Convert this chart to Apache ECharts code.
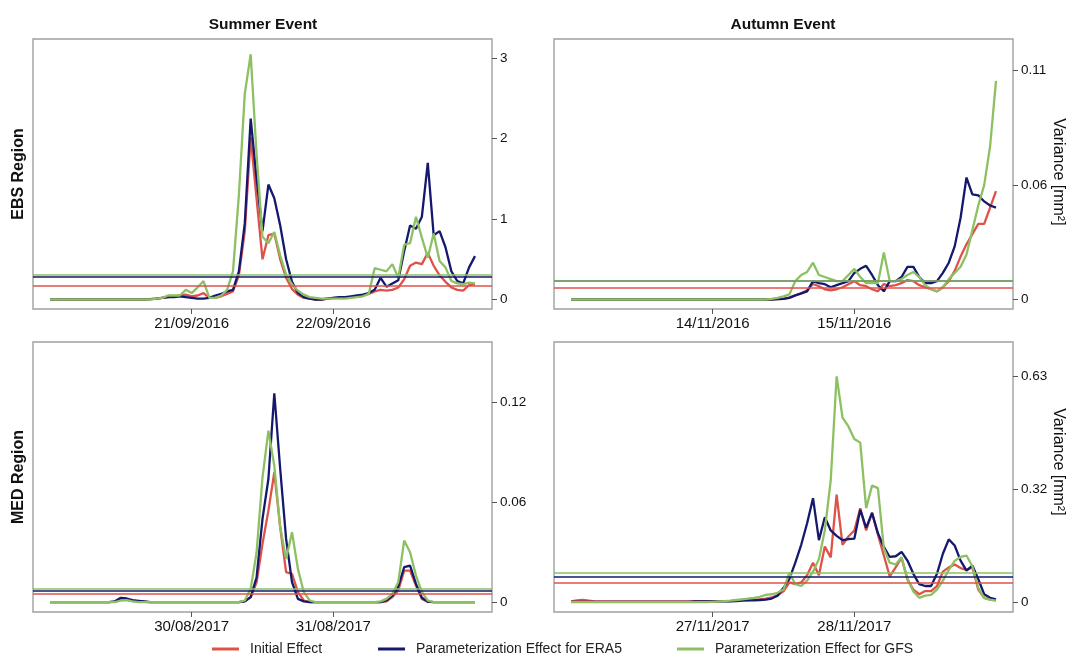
<!DOCTYPE html>
<html><head><meta charset="utf-8">
<script src="https://cdn.jsdelivr.net/npm/echarts@6/dist/echarts.min.js"></script>
<style>html,body{margin:0;padding:0;background:#fff}#c{width:1082px;height:657px}</style>
</head><body><div id="c"></div>
<script>
// hourly time index over 3 days (0 = first day 00:00)
const hours = Array.from({length: 73}, (_, i) => i);
const seriesNames = ['Initial Effect', 'Parameterization Effect for ERA5', 'Parameterization Effect for GFS'];

// ---- Summer event, EBS region ----
const summerEbsInitial = [
0,0,0,0,0,0,0,0,0,0,
0,0,0,0,0,0,0,0.005,0.01,0.02,
0.03,0.04,0.05,0.06,0.04,0.05,0.08,0.02,0.02,0.04,
0.07,0.1,0.3,0.85,2.02,1.25,0.5,0.8,0.82,0.5,
0.27,0.13,0.06,0.02,0.01,0,0,0.01,0.02,0.02,
0.03,0.03,0.04,0.05,0.07,0.1,0.12,0.11,0.12,0.15,
0.25,0.42,0.46,0.44,0.58,0.42,0.3,0.22,0.15,0.12,
0.11,0.18,0.19];
const summerEbsEra5 = [
0,0,0,0,0,0,0,0,0,0,
0,0,0,0,0,0,0,0.005,0.01,0.02,
0.03,0.03,0.04,0.03,0.02,0.01,0.01,0.02,0.05,0.07,
0.1,0.12,0.35,0.95,2.25,1.5,0.85,1.43,1.26,0.92,
0.5,0.22,0.08,0.03,0.01,0,0,0.01,0.02,0.03,
0.03,0.04,0.05,0.06,0.08,0.12,0.27,0.16,0.2,0.24,
0.6,0.92,0.88,1.03,1.7,0.8,0.85,0.65,0.35,0.23,
0.2,0.4,0.54];
const summerEbsGfs = [
0,0,0,0,0,0,0,0,0,0,
0,0,0,0,0,0,0,0,0.01,0.02,
0.05,0.05,0.05,0.12,0.08,0.15,0.23,0.02,0.02,0.05,
0.12,0.35,1.3,2.56,3.05,1.8,0.78,0.7,0.84,0.55,
0.31,0.19,0.11,0.06,0.03,0.02,0.01,0.01,0.01,0.01,
0.01,0.02,0.03,0.04,0.07,0.39,0.37,0.35,0.44,0.27,
0.68,0.7,1.03,0.77,0.52,0.82,0.48,0.4,0.23,0.2,
0.19,0.21,0.2];
const summerEbsThresholds = [0.177, 0.282, 0.303];

// ---- Autumn event, EBS region ----
const autumnEbsInitial = [
0,0,0,0,0,0,0,0,0,0,
0,0,0,0,0,0,0,0,0,0,
0,0,0,0,0,0,0,0,0,0,
0,0,0,0,0.0001,0.0002,0.0003,0.001,0.002,0.003,
0.0045,0.0076,0.0065,0.005,0.0045,0.005,0.006,0.0075,0.009,0.007,
0.0065,0.005,0.004,0.0076,0.0065,0.007,0.008,0.0095,0.009,0.007,
0.006,0.005,0.004,0.006,0.009,0.014,0.021,0.027,0.032,0.037,
0.037,0.045,0.053];
const autumnEbsEra5 = [
0,0,0,0,0,0,0,0,0,0,
0,0,0,0,0,0,0,0,0,0,
0,0,0,0,0,0,0,0,0,0,
0,0,0,0,0,0.0002,0.0003,0.0008,0.002,0.003,
0.004,0.009,0.008,0.0075,0.006,0.007,0.008,0.009,0.013,0.015,
0.0165,0.012,0.007,0.004,0.009,0.009,0.011,0.016,0.016,0.011,
0.008,0.008,0.009,0.013,0.018,0.026,0.04,0.0597,0.0515,0.051,
0.048,0.046,0.045];
const autumnEbsGfs = [
0,0,0,0,0,0,0,0,0,0,
0,0,0,0,0,0,0,0,0,0,
0,0,0,0,0,0,0,0,0,0,
0,0,0,0,0.0003,0.0008,0.0015,0.0025,0.009,0.012,
0.0135,0.018,0.012,0.011,0.01,0.009,0.009,0.012,0.015,0.011,
0.008,0.008,0.008,0.023,0.009,0.009,0.01,0.012,0.0135,0.011,
0.007,0.005,0.004,0.006,0.01,0.013,0.016,0.022,0.034,0.046,
0.056,0.075,0.107];
const autumnEbsThresholds = [0.0058, 0.009, 0.009];

// ---- Summer event, MED region ----
const summerMedInitial = [
0,0,0,0,0,0,0,0,0,0,
0,0.0003,0.0015,0.0015,0.0008,0.0004,0.0002,0,0,0,
0,0,0,0,0,0,0,0,0,0,
0,0,0,0.0005,0.003,0.012,0.035,0.055,0.078,0.045,
0.018,0.017,0.006,0.001,0,0,0,0,0,0,
0,0,0,0,0,0,0,0.0005,0.003,0.007,
0.019,0.019,0.01,0.002,0.0003,0,0,0,0,0,
0,0,0];
const summerMedEra5 = [
0,0,0,0,0,0,0,0,0,0,
0,0.0005,0.0026,0.0022,0.0012,0.0008,0.0004,0,0,0,
0,0,0,0,0,0,0,0,0,0,
0,0,0,0.0005,0.003,0.015,0.05,0.074,0.1255,0.08,
0.038,0.012,0.002,0.0005,0,0,0,0,0,0,
0,0,0,0,0,0,0,0.001,0.004,0.0095,
0.021,0.022,0.011,0.0027,0.0003,0,0,0,0,0,
0,0,0];
const summerMedGfs = [
0,0,0,0,0,0,0,0,0,0,
0,0,0.001,0.0012,0.0005,0,0,0,0,0,
0,0,0,0,0,0,0,0,0,0,
0,0,0,0.001,0.008,0.03,0.075,0.103,0.082,0.045,
0.026,0.042,0.02,0.006,0.001,0,0,0,0,0,
0,0,0,0,0,0,0.0005,0.002,0.005,0.012,
0.037,0.03,0.016,0.006,0.001,0,0,0,0,0,
0,0,0];
const summerMedThresholds = [0.0051, 0.0066, 0.0079];

// ---- Autumn event, MED region ----
const autumnMedInitial = [
0.002,0.005,0.006,0.004,0.002,0.002,0.002,0.002,0.002,0.002,
0.002,0.002,0.002,0.002,0.002,0.002,0.002,0.002,0.002,0.002,
0.002,0.003,0.003,0.003,0.003,0.003,0.003,0.003,0.005,0.006,
0.006,0.007,0.008,0.01,0.013,0.02,0.03,0.055,0.05,0.055,
0.075,0.11,0.075,0.155,0.125,0.3,0.16,0.183,0.2,0.262,
0.2,0.249,0.188,0.13,0.072,0.097,0.124,0.063,0.035,0.022,
0.031,0.031,0.045,0.085,0.097,0.105,0.095,0.09,0.097,0.035,
0.012,0.007,0.005];
const autumnMedEra5 = [
0.001,0.001,0.001,0.001,0.001,0.001,0.001,0.001,0.001,0.001,
0.001,0.001,0.001,0.001,0.001,0.001,0.001,0.001,0.001,0.001,
0.001,0.002,0.002,0.002,0.002,0.002,0.002,0.002,0.003,0.004,
0.005,0.005,0.006,0.007,0.01,0.018,0.04,0.065,0.11,0.16,
0.22,0.29,0.173,0.237,0.2,0.185,0.173,0.176,0.177,0.258,
0.207,0.249,0.192,0.154,0.126,0.128,0.14,0.116,0.079,0.05,
0.045,0.045,0.079,0.135,0.175,0.158,0.116,0.088,0.102,0.064,
0.022,0.012,0.0076];
const autumnMedGfs = [
0,0,0,0,0,0,0,0,0,0,
0,0,0,0,0,0,0,0,0,0,
0,0,0,0,0.001,0.002,0.003,0.004,0.006,0.008,
0.01,0.012,0.015,0.02,0.022,0.026,0.035,0.082,0.05,0.045,
0.06,0.085,0.12,0.2,0.34,0.63,0.515,0.49,0.455,0.445,
0.262,0.325,0.318,0.15,0.11,0.105,0.125,0.065,0.03,0.012,
0.018,0.02,0.035,0.06,0.09,0.115,0.126,0.13,0.1,0.04,
0.012,0.007,0.004];
const autumnMedThresholds = [0.054, 0.0702, 0.0807];

// ---- axis ticks and labels ----
const xTickHours = [24, 48];
const summerEbsDates = ['21/09/2016', '22/09/2016'];
const autumnEbsDates = ['14/11/2016', '15/11/2016'];
const summerMedDates = ['30/08/2017', '31/08/2017'];
const autumnMedDates = ['27/11/2017', '28/11/2017'];

const summerEbsYTicks = [0, 1, 2, 3];
const summerEbsYLabels = ['0', '1', '2', '3'];
const autumnEbsYTicks = [0, 0.056, 0.112];
const autumnEbsYLabels = ['0', '0.06', '0.11'];
const summerMedYTicks = [0, 0.06, 0.12];
const summerMedYLabels = ['0', '0.06', '0.12'];
const autumnMedYTicks = [0, 0.315, 0.63];
const autumnMedYLabels = ['0', '0.32', '0.63'];

const colors = ['#DE5248', '#15196E', '#8DC062'];
const FONT = 'Liberation Sans, Arial, sans-serif';

const panels = [
  {grid: {left: 33, top: 39, width: 459, height: 270}, yMin: -0.118, yMax: 3.24,
   dates: summerEbsDates, yTicks: summerEbsYTicks, yLabels: summerEbsYLabels,
   data: [summerEbsInitial, summerEbsEra5, summerEbsGfs], thr: summerEbsThresholds},
  {grid: {left: 554, top: 39, width: 459, height: 270}, yMin: -0.00465, yMax: 0.1275,
   dates: autumnEbsDates, yTicks: autumnEbsYTicks, yLabels: autumnEbsYLabels,
   data: [autumnEbsInitial, autumnEbsEra5, autumnEbsGfs], thr: autumnEbsThresholds},
  {grid: {left: 33, top: 342, width: 459, height: 270}, yMin: -0.0059, yMax: 0.1563,
   dates: summerMedDates, yTicks: summerMedYTicks, yLabels: summerMedYLabels,
   data: [summerMedInitial, summerMedEra5, summerMedGfs], thr: summerMedThresholds},
  {grid: {left: 554, top: 342, width: 459, height: 270}, yMin: -0.0275, yMax: 0.7257,
   dates: autumnMedDates, yTicks: autumnMedYTicks, yLabels: autumnMedYLabels,
   data: [autumnMedInitial, autumnMedEra5, autumnMedGfs], thr: autumnMedThresholds}
];

const grids = [], xAxes = [], yAxes = [], series = [];
panels.forEach((p, pi) => {
  grids.push(Object.assign({show: true, borderColor: '#a0a0a0', borderWidth: 1.4, backgroundColor: 'transparent'}, p.grid));
  xAxes.push({
    type: 'value', gridIndex: pi, min: -2.88, max: 74.88,
    axisLine: {show: false, onZero: false}, splitLine: {show: false},
    axisTick: {show: true, customValues: xTickHours, length: 5, lineStyle: {color: '#555', width: 1}},
    axisLabel: {customValues: xTickHours, margin: 7, fontSize: 15, color: '#111', fontFamily: FONT,
      formatter: v => p.dates[xTickHours.indexOf(v)]}
  });
  yAxes.push({
    type: 'value', gridIndex: pi, position: 'right', min: p.yMin, max: p.yMax,
    axisLine: {show: false, onZero: false}, splitLine: {show: false},
    axisTick: {show: true, customValues: p.yTicks, length: 5, lineStyle: {color: '#555', width: 1}},
    axisLabel: {customValues: p.yTicks, margin: 8, fontSize: 13.5, color: '#111', fontFamily: FONT,
      formatter: v => { for (let i = 0; i < p.yTicks.length; i++) { if (Math.abs(p.yTicks[i] - v) < 1e-9) return p.yLabels[i]; } return ''; }}
  });
  p.data.forEach((vals, si) => {
    series.push({
      name: seriesNames[si], type: 'line', xAxisIndex: pi, yAxisIndex: pi,
      data: vals.map((v, i) => [hours[i], v]),
      showSymbol: false, symbol: 'none', smooth: false, z: 2 + si,
      lineStyle: {color: colors[si], width: 2.3},
      itemStyle: {color: colors[si]},
      markLine: {silent: true, precision: 6, symbol: ['none', 'none'], label: {show: false},
        lineStyle: {color: colors[si], width: 1.5, type: 'solid', opacity: 1},
        emphasis: {disabled: true},
        data: [{yAxis: p.thr[si]}]}
    });
  });
});

const txt = (x, y, text, font, rot) => ({
  type: 'text', x: x, y: y, rotation: rot || 0, z: 100,
  style: {text: text, font: font, fill: '#111', textAlign: 'center', textVerticalAlign: 'middle', align: 'center', verticalAlign: 'middle'}
});

const legendLefts = [207, 373, 672];
const legends = seriesNames.map((n, i) => ({
  data: [n], left: legendLefts[i], top: 637, icon: 'rect',
  itemWidth: 27, itemHeight: 3,
  textStyle: {fontSize: 14, color: '#222', fontFamily: FONT, padding: [0, 0, 0, 6], lineHeight: 14}
}));

const option = {
  animation: false,
  backgroundColor: '#fff',
  grid: grids, xAxis: xAxes, yAxis: yAxes, series: series,
  legend: legends,
  graphic: [
    txt(263, 25, 'Summer Event', 'bold 15.5px ' + FONT),
    txt(783, 25, 'Autumn Event', 'bold 15.5px ' + FONT),
    txt(19, 174, 'EBS Region', 'bold 16px ' + FONT, Math.PI / 2),
    txt(19, 477, 'MED Region', 'bold 16px ' + FONT, Math.PI / 2),
    txt(1058, 172, 'Variance [mm²]', '16px ' + FONT, -Math.PI / 2),
    txt(1058, 462, 'Variance [mm²]', '16px ' + FONT, -Math.PI / 2)
  ]
};

const chart = echarts.init(document.getElementById('c'), null, {renderer: 'canvas'});
chart.setOption(option);
</script></body></html>
